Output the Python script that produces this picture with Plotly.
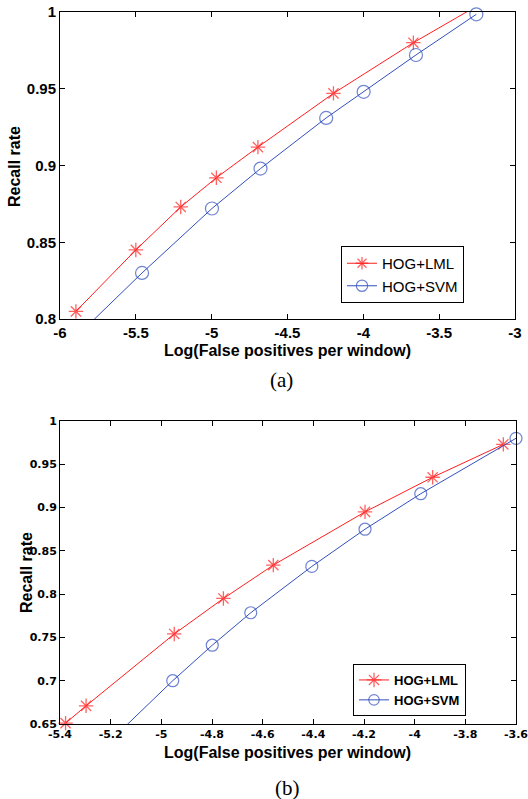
import plotly.graph_objects as go

# ---------------- data ----------------
# Panel (a)
a_lml_x = [-5.895, -5.50, -5.204, -4.969, -4.695, -4.197, -3.670, -3.25]
a_lml_y = [0.805, 0.845, 0.873, 0.892, 0.912, 0.947, 0.980, 1.004]
a_svm_x = [-5.95, -5.459, -4.998, -4.678, -4.245, -3.998, -3.653, -3.255]
a_svm_y = [0.783, 0.830, 0.872, 0.898, 0.931, 0.948, 0.972, 0.9985]
a_xticks = [-6, -5.5, -5, -4.5, -4, -3.5, -3]
a_yticks = [0.8, 0.85, 0.9, 0.95, 1]

# Panel (b)
b_lml_x = [-5.378, -5.297, -4.949, -4.755, -4.558, -4.196, -3.929, -3.650]
b_lml_y = [0.651, 0.671, 0.754, 0.795, 0.8335, 0.895, 0.935, 0.973]
b_svm_x = [-5.20, -4.955, -4.799, -4.647, -4.406, -4.196, -3.976, -3.600]
b_svm_y = [0.631, 0.700, 0.741, 0.7785, 0.832, 0.875, 0.916, 0.980]
b_xticks = [-5.4, -5.2, -5, -4.8, -4.6, -4.4, -4.2, -4, -3.8, -3.6]
b_yticks = [0.65, 0.7, 0.75, 0.8, 0.85, 0.9, 0.95, 1]

series_names = ["HOG+LML", "HOG+SVM"]
x_title = "Log(False positives per window)"
y_title = "Recall rate"

# ---------------- styling ----------------
W, H = 528, 799
RED = "rgb(255,30,30)"
BLUE = "rgb(50,80,190)"
SANS = "Arial, Liberation Sans, sans-serif"
WIDE = "DejaVu Sans, Arial, sans-serif"
SERIF = "Times New Roman, Liberation Serif, serif"

a_xr = [a_xticks[0], a_xticks[-1]]
a_yr = [a_yticks[0], a_yticks[-1]]
b_xr = [b_xticks[0], b_xticks[-1]]
b_yr = [b_yticks[0], b_yticks[-1]]


def sizes(xs, ys, xr, yr, s):
    return [s if (xr[0] - 1e-9 <= x <= xr[1] + 1e-9 and yr[0] - 1e-3 <= y <= yr[1] + 1e-9) else 0
            for x, y in zip(xs, ys)]


fig = go.Figure()

# Panel (a)
fig.add_trace(go.Scatter(
    x=a_lml_x, y=a_lml_y, name=series_names[0], mode="lines+markers",
    line=dict(color=RED, width=1),
    marker=dict(symbol="asterisk-open", size=sizes(a_lml_x, a_lml_y, a_xr, a_yr, 12),
                color=RED, line=dict(color=RED, width=1.3)),
    cliponaxis=False, xaxis="x", yaxis="y", legend="legend"))
fig.add_trace(go.Scatter(
    x=a_svm_x, y=a_svm_y, name=series_names[1], mode="lines+markers",
    line=dict(color=BLUE, width=1),
    marker=dict(symbol="circle-open", size=sizes(a_svm_x, a_svm_y, a_xr, a_yr, 13),
                color=BLUE, line=dict(color=BLUE, width=1.2)),
    cliponaxis=False, xaxis="x", yaxis="y", legend="legend"))

# Panel (b)
fig.add_trace(go.Scatter(
    x=b_lml_x, y=b_lml_y, name=series_names[0], mode="lines+markers",
    line=dict(color=RED, width=1),
    marker=dict(symbol="asterisk-open", size=sizes(b_lml_x, b_lml_y, b_xr, b_yr, 12),
                color=RED, line=dict(color=RED, width=1.3)),
    cliponaxis=False, xaxis="x2", yaxis="y2", legend="legend2"))
fig.add_trace(go.Scatter(
    x=b_svm_x, y=b_svm_y, name=series_names[1], mode="lines+markers",
    line=dict(color=BLUE, width=1),
    marker=dict(symbol="circle-open", size=sizes(b_svm_x, b_svm_y, b_xr, b_yr, 12),
                color=BLUE, line=dict(color=BLUE, width=1.2)),
    cliponaxis=False, xaxis="x2", yaxis="y2", legend="legend2"))


def px_x(p):
    return p / W


def px_y(p):
    return 1 - p / H


common = dict(showline=True, linecolor="black", linewidth=1, mirror="ticks",
              ticks="inside", ticklen=5, tickcolor="black", showgrid=False,
              zeroline=False, fixedrange=True, automargin=False,
              ticklabeloverflow="allow")

fig.update_layout(
    width=W, height=H,
    margin=dict(l=0, r=0, t=0, b=0, autoexpand=False),
    paper_bgcolor="white", plot_bgcolor="white",
    xaxis=dict(domain=[px_x(60), px_x(515)], range=a_xr, tickvals=a_xticks,
               ticktext=[f"{v:g}" for v in a_xticks], anchor="y",
               tickfont=dict(family=SANS, size=15, color="black", weight="bold"),
               ticklabelstandoff=0, **common),
    yaxis=dict(domain=[px_y(319), px_y(12)], range=a_yr, tickvals=a_yticks,
               ticktext=[f"{v:g}" for v in a_yticks], anchor="x",
               tickfont=dict(family=SANS, size=15, color="black", weight="bold"),
               ticklabelstandoff=0, **common),
    xaxis2=dict(domain=[px_x(60), px_x(516)], range=b_xr, tickvals=b_xticks,
                ticktext=[f"{v:g}" for v in b_xticks], anchor="y2",
                tickfont=dict(family=WIDE, size=11, color="black", weight="bold"),
                ticklabelstandoff=0, **common),
    yaxis2=dict(domain=[px_y(724), px_y(421)], range=b_yr, tickvals=b_yticks,
                ticktext=[f"{v:g}" for v in b_yticks], anchor="x2",
                tickfont=dict(family=WIDE, size=11, color="black", weight="bold"),
                ticklabelstandoff=0, **common),
    legend=dict(x=px_x(341), y=px_y(246), xanchor="left", yanchor="top",
                bordercolor="black", borderwidth=1, bgcolor="white",
                font=dict(family=SANS, size=15, color="black"),
                tracegroupgap=0),
    legend2=dict(x=px_x(353), y=px_y(664), xanchor="left", yanchor="top",
                 bordercolor="black", borderwidth=1, bgcolor="white",
                 font=dict(family=SANS, size=13, color="black", weight="bold"),
                 tracegroupgap=0),
    showlegend=True,
)

ann = [
    dict(text=x_title, x=px_x(287), y=px_y(350), font=dict(family=SANS, size=16, weight="bold")),
    dict(text=y_title, x=px_x(15), y=px_y(167), textangle=-90, font=dict(family=SANS, size=16, weight="bold")),
    dict(text="(a)", x=px_x(281), y=px_y(380), font=dict(family=SERIF, size=21)),
    dict(text=x_title, x=px_x(287), y=px_y(752), font=dict(family=SANS, size=16, weight="bold")),
    dict(text=y_title, x=px_x(26), y=px_y(573), textangle=-90, font=dict(family=SANS, size=16, weight="bold")),
    dict(text="(b)", x=px_x(287), y=px_y(788), font=dict(family=SERIF, size=21)),
]
for a in ann:
    a.update(xref="paper", yref="paper", xanchor="center", yanchor="middle",
             showarrow=False)
    a["font"]["color"] = "black"
    fig.add_annotation(**a)

fig.write_html(
    "out.html",
    config={"displayModeBar": False, "staticPlot": True},
    post_script="document.body.style.margin='0';document.body.style.padding='0';"
                "document.body.style.overflow='hidden';",
)
